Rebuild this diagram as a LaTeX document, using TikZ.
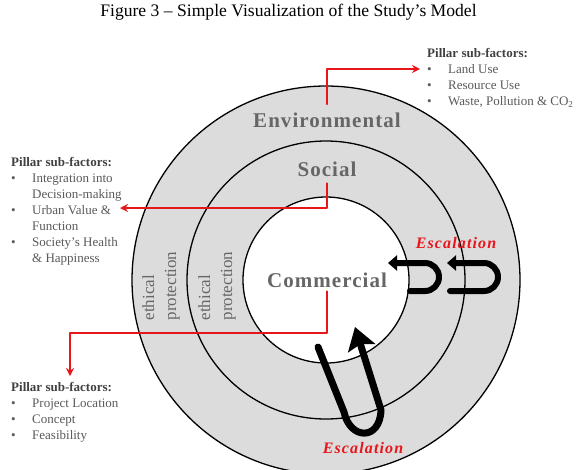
\documentclass[tikz,border=0pt]{standalone}
\usepackage{fontspec}
\setmainfont{Liberation Serif}
\newfontfamily\ringfont{Liberation Serif}[LetterSpace=5]
\newfontfamily\escfont{Liberation Serif}[LetterSpace=7]
\usetikzlibrary{arrows.meta}
\definecolor{ringgray}{HTML}{DCDCDC}
\definecolor{labelgray}{HTML}{666666}
\definecolor{listgray}{HTML}{595959}
\definecolor{headgray}{HTML}{404040}
\definecolor{linkred}{HTML}{E8151B}

\begin{document}
\begin{tikzpicture}[x=1pt, y=-1pt, line cap=round, line join=round,
  ring/.style={circle, draw=black, line width=1.3pt, inner sep=0pt, minimum size=#1},
  ringlabel/.style={font=\ringfont\bfseries\fontsize{21}{24}\selectfont, text=labelgray, inner sep=0pt, anchor=base},
  ethic/.style={rotate=90, align=left, text=labelgray, font=\fontsize{17}{22}\selectfont, inner sep=0pt},
  sublist/.style={anchor=north west, inner sep=0pt, text=listgray, font=\fontsize{13}{16}\selectfont},
  link/.style={draw=linkred, line width=2pt, -{Stealth[length=8pt,width=8pt]}},
  turn/.style={line width=6pt, rounded corners=14pt, -{Triangle[length=9pt,width=15pt]}},
  escal/.style={font=\escfont\bfseries\itshape\fontsize{16}{19}\selectfont, text=linkred, anchor=base, inner sep=0pt}]
\useasboundingbox (0,0) rectangle (580,469);

% title
\node[font=\fontsize{17.6}{20}\selectfont, anchor=base] (title) at (288.5,16) {Figure 3 – Simple Visualization of the Study’s Model};

% the three pillars
\node[ring=388pt, fill=ringgray] (outer) at (326,280) {};
\node[ring=278pt, fill=ringgray] (middle) at (326,280) {};
\node[ring=166pt, fill=white] (inner) at (326,280) {};

\node[ethic] (ethout) at (161,286) {ethical\\protection};
\node[ethic] (ethmid) at (217,286) {ethical\\protection};

\node[ringlabel] (env) at (327,127) {Environmental};
\node[ringlabel] (soc) at (327,176) {Social};
\node[ringlabel] (com) at (327,287) {Commercial};

% sub-factor lists
\node[sublist] (envlist) at (427,46) {\begin{tabular}{@{}p{21pt}@{}l@{}}
  \multicolumn{2}{@{}l@{}}{\color{headgray}\bfseries Pillar sub-factors:}\\
  \textbullet & Land Use\\
  \textbullet & Resource Use\\
  \textbullet & Waste, Pollution \& CO\textsubscript{2}
\end{tabular}};
\node[sublist] (soclist) at (11,155) {\begin{tabular}{@{}p{21pt}@{}l@{}}
  \multicolumn{2}{@{}l@{}}{\color{headgray}\bfseries Pillar sub-factors:}\\
  \textbullet & Integration into\\
              & Decision-making\\
  \textbullet & Urban Value \&\\
              & Function\\
  \textbullet & Society’s Health\\
              & \& Happiness
\end{tabular}};
\node[sublist] (comlist) at (11,380) {\begin{tabular}{@{}p{21pt}@{}l@{}}
  \multicolumn{2}{@{}l@{}}{\color{headgray}\bfseries Pillar sub-factors:}\\
  \textbullet & Project Location\\
  \textbullet & Concept\\
  \textbullet & Feasibility
\end{tabular}};

% red links to the lists
\coordinate (envend) at (420,69);
\coordinate (socend) at (120,208);
\coordinate (comend) at (70,376);
\draw[link] ([yshift=8pt]env.north) |- (envend);
\draw[link] ([yshift=-7pt]soc.south) |- (socend);
\draw[link] ([yshift=-4pt]com.south) -- ++(0,42) -| (comend);

% escalation turns
\draw[turn] (410,291) -- (439,291) -- (439,263) -- (388,263);
\draw[turn] (450,291) -- (498,291) -- (498,263) -- (447,263);
\draw[turn, sharp corners, line width=7pt, -{Stealth[length=22pt,width=28pt,inset=4pt]}]
  (318,347) -- (344,412) .. controls (350,440) and (380,441) .. (381,410) -- (355,327);

\node[escal] (escright) at (456,248) {Escalation};
\node[escal] (escbottom) at (363,453) {Escalation};
\end{tikzpicture}
\end{document}
